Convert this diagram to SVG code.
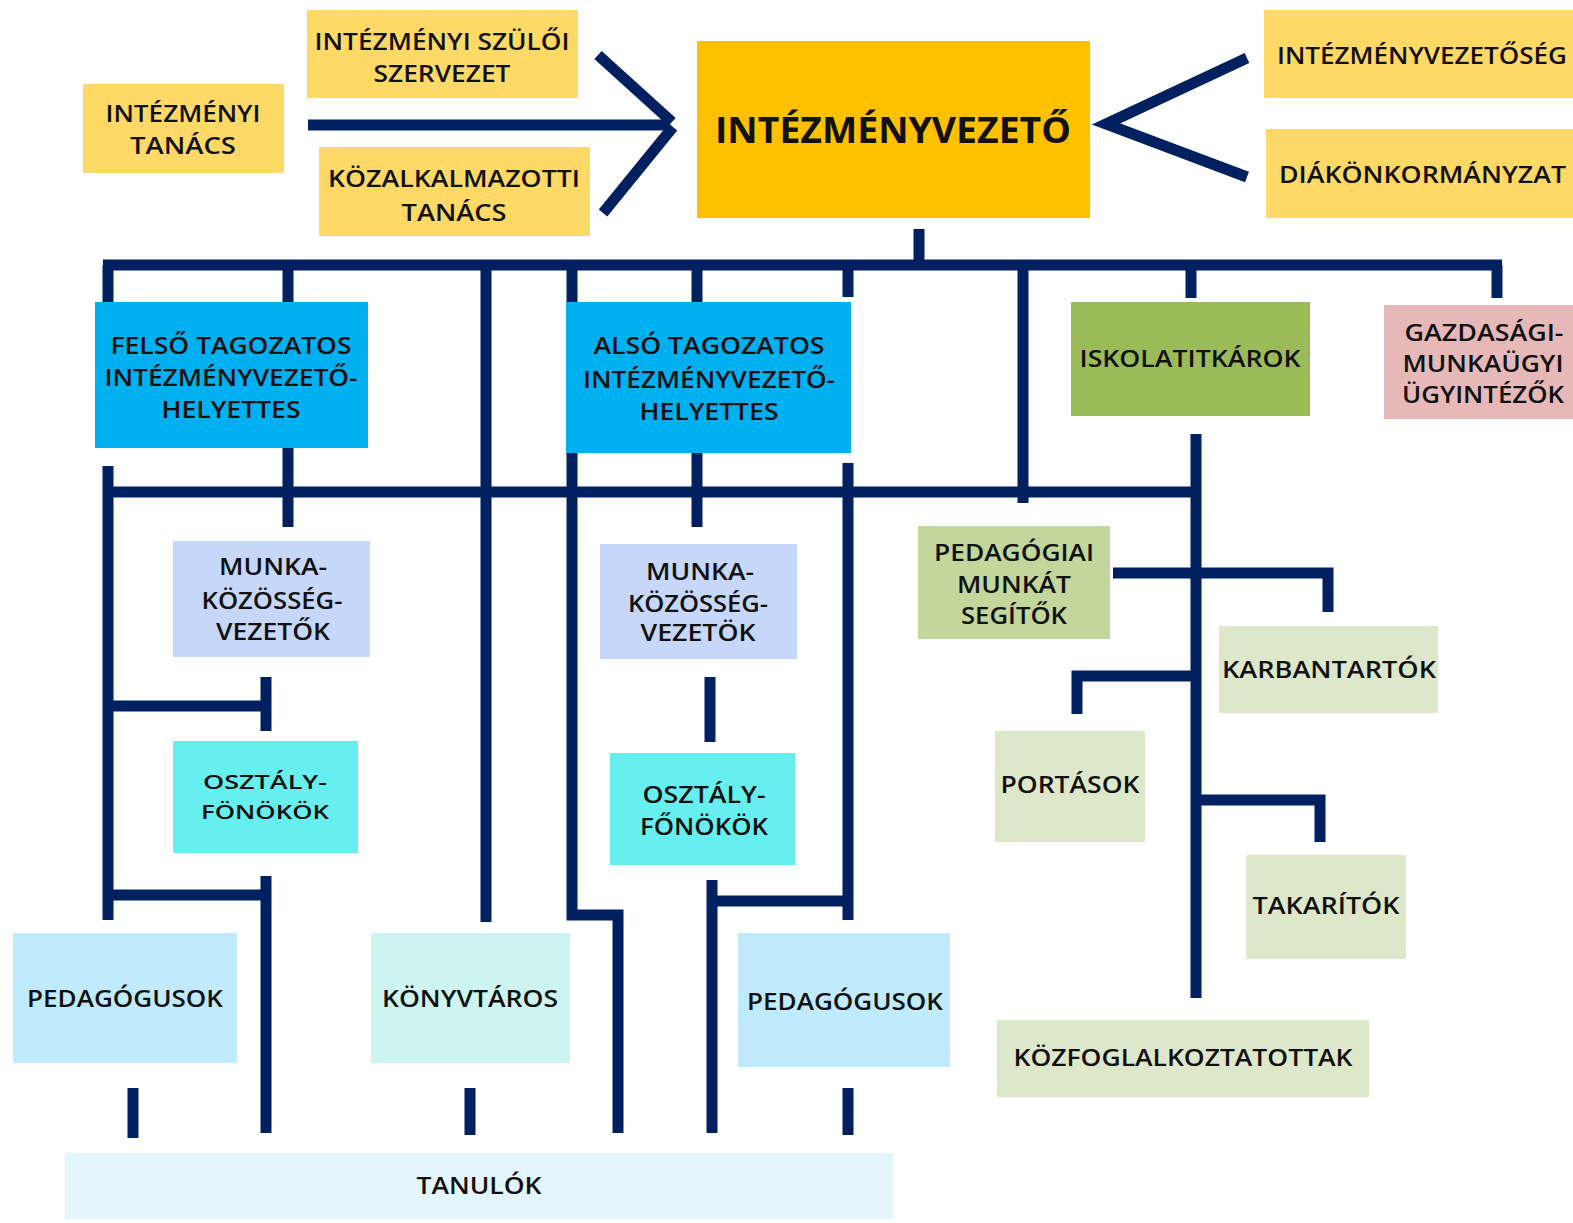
<svg xmlns="http://www.w3.org/2000/svg" width="1573" height="1223" viewBox="0 0 1573 1223">
<style>
.t{font-family:"Open Sans","Liberation Sans",sans-serif;font-weight:600;font-size:23px;fill:#111;text-anchor:middle}
.s{font-size:20px}
.big{font-size:36px;font-weight:700}
.l{text-anchor:start}
.c path{fill:none;stroke:#002060;stroke-width:11;stroke-linecap:butt;stroke-linejoin:miter}
.y{fill:#FFD966}
</style>
<rect width="1573" height="1223" fill="#fff"/>
<g class="c" id="connectors">
<path d="M308 125 H670"/>
<path d="M598 55 L672 122 M673 127 L603 213"/>
<path d="M1247 58 L1106 124 L1247 177"/>
<path d="M919 229 V265"/>
<path d="M103 265 H1502"/>
<path d="M108 265 V302 M288 265 V302 M486 265 V922 M572 265 V915 H618 V1133 M697 265 V302 M848 265 V297 M1023 265 V503 M1191 265 V298 M1497 265 V298"/>
<path d="M108 492 H1201"/>
<path d="M108 466 V920 M288 448 V527 M697 453 V527 M848 463 V920 M1196 434 V998"/>
<path d="M108 706 H266 M266 677 V731"/>
<path d="M113 895 H266 M266 876 V1133"/>
<path d="M710 677 V742"/>
<path d="M712 880 V1133 M712 901 H848"/>
<path d="M133 1088 V1138 M470 1088 V1135 M848 1088 V1135"/>
<path d="M1113 573 H1328 V612 M1077 714 V676 H1196 M1196 800 H1320 V842"/>
</g>
<g id="szuloi"><rect class="y" x="307" y="10" width="271" height="88"/><text class="t" x="442" y="50" textLength="255" lengthAdjust="spacingAndGlyphs">INTÉZMÉNYI SZÜLŐI</text><text class="t" x="442" y="82" textLength="137" lengthAdjust="spacingAndGlyphs">SZERVEZET</text></g>
<g id="tanacs"><rect class="y" x="83" y="84" width="201" height="89"/><text class="t" x="183" y="122" textLength="155" lengthAdjust="spacingAndGlyphs">INTÉZMÉNYI</text><text class="t" x="183" y="154" textLength="106" lengthAdjust="spacingAndGlyphs">TANÁCS</text></g>
<g id="kozalk"><rect class="y" x="319" y="147" width="271" height="89"/><text class="t" x="454" y="187" textLength="252" lengthAdjust="spacingAndGlyphs">KÖZALKALMAZOTTI</text><text class="t" x="454" y="221" textLength="105" lengthAdjust="spacingAndGlyphs">TANÁCS</text></g>
<g id="vezeto"><rect x="697" y="41" width="393" height="177" fill="#FFC000"/><text class="t big" x="893" y="143" textLength="356" lengthAdjust="spacingAndGlyphs">INTÉZMÉNYVEZETŐ</text></g>
<g id="vezetoseg"><rect class="y" x="1264" y="10" width="309" height="88"/><text class="t l" x="1277" y="64" textLength="290" lengthAdjust="spacingAndGlyphs">INTÉZMÉNYVEZETŐSÉG</text></g>
<g id="diak"><rect class="y" x="1266" y="129" width="307" height="89"/><text class="t l" x="1279" y="183" textLength="287" lengthAdjust="spacingAndGlyphs">DIÁKÖNKORMÁNYZAT</text></g>
<g id="felso"><rect x="95" y="302" width="273" height="146" fill="#00B0F0"/><text class="t" x="231" y="354" textLength="241" lengthAdjust="spacingAndGlyphs">FELSŐ TAGOZATOS</text><text class="t" x="231" y="386" textLength="253" lengthAdjust="spacingAndGlyphs">INTÉZMÉNYVEZETŐ-</text><text class="t" x="231" y="418" textLength="139" lengthAdjust="spacingAndGlyphs">HELYETTES</text></g>
<g id="also"><rect x="566" y="302" width="285" height="151" fill="#00B0F0"/><text class="t" x="709" y="354" textLength="231" lengthAdjust="spacingAndGlyphs">ALSÓ TAGOZATOS</text><text class="t" x="709" y="388" textLength="252" lengthAdjust="spacingAndGlyphs">INTÉZMÉNYVEZETŐ-</text><text class="t" x="709" y="420" textLength="139" lengthAdjust="spacingAndGlyphs">HELYETTES</text></g>
<g id="titkar"><rect x="1071" y="302" width="239" height="114" fill="#9BBB59"/><text class="t" x="1190" y="367" textLength="221" lengthAdjust="spacingAndGlyphs">ISKOLATITKÁROK</text></g>
<g id="gazd"><rect x="1384" y="305" width="189" height="114" fill="#E6B9B8"/><text class="t" x="1484" y="341" textLength="159" lengthAdjust="spacingAndGlyphs">GAZDASÁGI-</text><text class="t" x="1483" y="372" textLength="161" lengthAdjust="spacingAndGlyphs">MUNKAÜGYI</text><text class="t" x="1483" y="403" textLength="162" lengthAdjust="spacingAndGlyphs">ÜGYINTÉZŐK</text></g>
<g id="mkv1"><rect x="173" y="541" width="197" height="116" fill="#C6D7FA"/><text class="t" x="273" y="575" textLength="108" lengthAdjust="spacingAndGlyphs">MUNKA-</text><text class="t" x="272" y="609" textLength="141" lengthAdjust="spacingAndGlyphs">KÖZÖSSÉG-</text><text class="t" x="273" y="640" textLength="114" lengthAdjust="spacingAndGlyphs">VEZETŐK</text></g>
<g id="mkv2"><rect x="600" y="544" width="197" height="115" fill="#C6D7FA"/><text class="t" x="700" y="580" textLength="108" lengthAdjust="spacingAndGlyphs">MUNKA-</text><text class="t" x="698" y="612" textLength="140" lengthAdjust="spacingAndGlyphs">KÖZÖSSÉG-</text><text class="t" x="698" y="641" textLength="115" lengthAdjust="spacingAndGlyphs">VEZETÖK</text></g>
<g id="of1"><rect x="173" y="741" width="185" height="112" fill="#67EFF0"/><text class="t s" x="265" y="789" textLength="124" lengthAdjust="spacingAndGlyphs">OSZTÁLY-</text><text class="t s" x="265" y="819" textLength="128" lengthAdjust="spacingAndGlyphs">FÖNÖKÖK</text></g>
<g id="of2"><rect x="610" y="753" width="185" height="112" fill="#67EFF0"/><text class="t" x="704" y="803" textLength="123" lengthAdjust="spacingAndGlyphs">OSZTÁLY-</text><text class="t" x="704" y="835" textLength="128" lengthAdjust="spacingAndGlyphs">FŐNÖKÖK</text></g>
<g id="ped1"><rect x="13" y="933" width="224" height="130" fill="#BFEBFD"/><text class="t" x="125" y="1007" textLength="196" lengthAdjust="spacingAndGlyphs">PEDAGÓGUSOK</text></g>
<g id="konyv"><rect x="371" y="933" width="199" height="130" fill="#CCF5F1"/><text class="t" x="470" y="1007" textLength="176" lengthAdjust="spacingAndGlyphs">KÖNYVTÁROS</text></g>
<g id="ped2"><rect x="738" y="933" width="212" height="134" fill="#BFEBFD"/><text class="t" x="845" y="1010" textLength="196" lengthAdjust="spacingAndGlyphs">PEDAGÓGUSOK</text></g>
<g id="tanulok"><rect x="65" y="1153" width="828" height="66" fill="#E4F6FD"/><text class="t" x="479" y="1194" textLength="125" lengthAdjust="spacingAndGlyphs">TANULÓK</text></g>
<g id="pms"><rect x="918" y="526" width="192" height="113" fill="#C3D69B"/><text class="t" x="1014" y="561" textLength="160" lengthAdjust="spacingAndGlyphs">PEDAGÓGIAI</text><text class="t" x="1014" y="593" textLength="114" lengthAdjust="spacingAndGlyphs">MUNKÁT</text><text class="t" x="1014" y="624" textLength="106" lengthAdjust="spacingAndGlyphs">SEGÍTŐK</text></g>
<g id="karb"><rect x="1219" y="626" width="219" height="87" fill="#DDE8CB"/><text class="t" x="1329" y="678" textLength="214" lengthAdjust="spacingAndGlyphs">KARBANTARTÓK</text></g>
<g id="port"><rect x="995" y="731" width="150" height="111" fill="#DDE8CB"/><text class="t" x="1070" y="793" textLength="139" lengthAdjust="spacingAndGlyphs">PORTÁSOK</text></g>
<g id="tak"><rect x="1246" y="855" width="160" height="104" fill="#DDE8CB"/><text class="t" x="1326" y="914" textLength="147" lengthAdjust="spacingAndGlyphs">TAKARÍTÓK</text></g>
<g id="kozf"><rect x="997" y="1020" width="372" height="77" fill="#DDE8CB"/><text class="t" x="1183" y="1066" textLength="339" lengthAdjust="spacingAndGlyphs">KÖZFOGLALKOZTATOTTAK</text></g>
</svg>
